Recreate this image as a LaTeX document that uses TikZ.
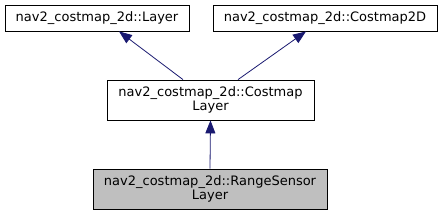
\documentclass[tikz,border=0pt]{standalone}
\usepackage{fontspec}
\setmainfont{DejaVu Sans}
\usetikzlibrary{arrows.meta}
\definecolor{edgeblue}{HTML}{191970}
\tikzset{
  cls/.style={draw=black, line width=0.8pt, fill=white, inner sep=0pt, align=center, font=\fontsize{13}{14.5}\selectfont},
  inh/.style={draw=edgeblue, line width=0.8pt, -{Triangle[length=13pt,width=10pt]}}
}
\begin{document}
\begin{tikzpicture}[x=1pt,y=-1pt]
\useasboundingbox (0,0) rectangle (443,216);
\node[cls, minimum width=184pt, minimum height=26pt] (layer) at (97,18) {nav2\_costmap\_2d::Layer};
\node[cls, minimum width=224pt, minimum height=26pt] (c2d) at (325,18) {nav2\_costmap\_2d::Costmap2D};
\node[cls, minimum width=207pt, minimum height=40pt] (cl) at (210.5,100) {nav2\_costmap\_2d::Costmap\\Layer};
\node[cls, fill=gray!50, minimum width=234pt, minimum height=40pt] (rs) at (210,189) {nav2\_costmap\_2d::RangeSensor\\Layer};
\draw[inh] ([xshift=-27.5pt]cl.north) -- ([xshift=22pt]layer.south);
\draw[inh] ([xshift=27.5pt]cl.north) -- ([xshift=-19pt]c2d.south);
\draw[inh] (rs.north) -- (cl.south);
\end{tikzpicture}
\end{document}
